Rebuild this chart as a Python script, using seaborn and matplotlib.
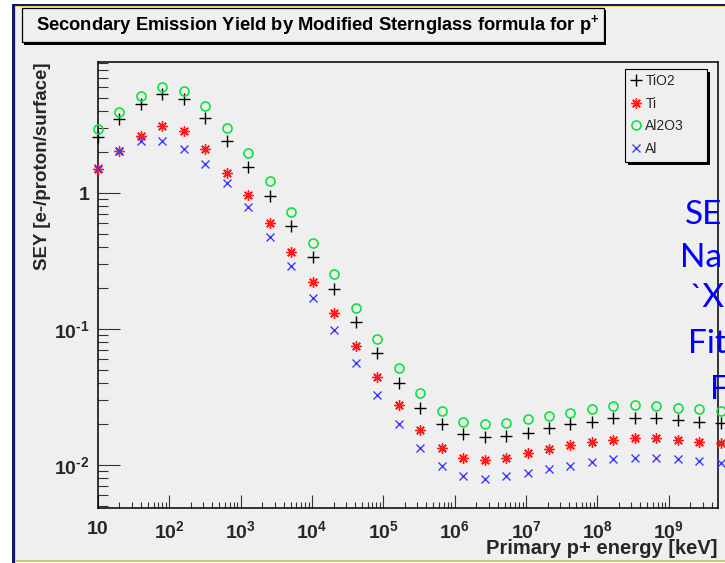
import matplotlib
matplotlib.use("Agg")
import matplotlib.pyplot as plt
import seaborn as sns
import pandas as pd
from matplotlib.patches import Rectangle
from matplotlib.ticker import LogLocator, NullFormatter

# proton energy in keV (doubling steps)
energy_kev = [10, 20, 40, 80, 160, 320, 640, 1280, 2560, 5120, 10240, 20480,
              40960, 81920, 163840, 327680, 655360, 1310720, 2621440, 5242880,
              10485760, 20971520, 41943040, 83886080, 167772160, 335544320,
              671088640, 1342177280, 2684354560, 5368709120]

sey_tio2 = [2.57, 3.48, 4.51, 5.32, 4.89, 3.54, 2.41, 1.56, 0.95, 0.575, 0.34,
            0.196, 0.112, 0.0663, 0.0403, 0.0261, 0.0199, 0.0168, 0.016, 0.0163,
            0.0173, 0.0186, 0.0199, 0.0208, 0.022, 0.0222, 0.022, 0.0214, 0.0208, 0.0204]
sey_ti = [1.5, 2.05, 2.63, 3.11, 2.87, 2.10, 1.41, 0.97, 0.605, 0.37, 0.223,
          0.132, 0.075, 0.0446, 0.0276, 0.0181, 0.0134, 0.0113, 0.0109, 0.0113,
          0.0122, 0.0131, 0.014, 0.0148, 0.0153, 0.0157, 0.0157, 0.0153, 0.0148, 0.0145]
sey_al2o3 = [2.96, 3.96, 5.19, 6.05, 5.65, 4.36, 2.99, 1.98, 1.22, 0.725, 0.43,
             0.252, 0.143, 0.084, 0.052, 0.034, 0.0249, 0.0208, 0.0199, 0.0204,
             0.0217, 0.0231, 0.0243, 0.0257, 0.0272, 0.0276, 0.0272, 0.0264, 0.026, 0.0251]
sey_al = [1.53, 2.05, 2.42, 2.42, 2.10, 1.63, 1.19, 0.79, 0.477, 0.29, 0.17,
          0.098, 0.0565, 0.033, 0.020, 0.0134, 0.00984, 0.0083, 0.0079, 0.0083,
          0.0088, 0.0093, 0.0098, 0.0106, 0.011, 0.0112, 0.0112, 0.011, 0.0107, 0.0104]

materials = ["TiO2", "Ti", "Al2O3", "Al"]
series = [sey_tio2, sey_ti, sey_al2o3, sey_al]

xtick_vals = [1e1, 1e2, 1e3, 1e4, 1e5, 1e6, 1e7, 1e8, 1e9]
xtick_labels = ["10", "$10^{2}$", "$10^{3}$", "$10^{4}$", "$10^{5}$",
                "$10^{6}$", "$10^{7}$", "$10^{8}$", "$10^{9}$"]
ytick_vals = [1e-2, 1e-1, 1]
ytick_labels = [r"$10^{\text{-}2}$", r"$10^{\text{-}1}$", "1"]

overlay_lines = ["SE", "Na", "`X", "Fit", "F"]

df = pd.DataFrame({
    "energy": energy_kev * len(materials),
    "sey": [v for s in series for v in s],
    "material": [m for m in materials for _ in energy_kev],
})

sns.set_style("ticks")
plt.rcParams["font.family"] = ["Liberation Sans", "DejaVu Sans"]
plt.rcParams["mathtext.fontset"] = "custom"
plt.rcParams["mathtext.rm"] = "Liberation Sans:bold"
plt.rcParams["mathtext.bf"] = "Liberation Sans:bold"
plt.rcParams["mathtext.it"] = "Liberation Sans:bold:italic"
plt.rcParams["mathtext.sf"] = "Liberation Sans:bold"
plt.rcParams["mathtext.default"] = "rm"

W, H = 725, 563
panel = "#efefef"


def px(x):
    return x / W


def py(y):
    return 1 - y / H


def frame_rect(x0, y0, x1, y1, color, z=-2, target=None, **kw):
    # rectangle given in picture pixels (top-left origin)
    r = Rectangle((px(x0), py(y1)), px(x1) - px(x0), py(y0) - py(y1),
                  transform=fig.transFigure, facecolor=color, zorder=z,
                  clip_on=False, **kw)
    if target is None:
        fig.patches.append(r)
    else:
        target.add_patch(r)


fig = plt.figure(figsize=(7.25, 5.63), dpi=100, facecolor="white")

# screenshot frame: gray pad with navy / yellow border
frame_rect(15, 7, 725, 561, panel, edgecolor="none")
frame_rect(12, 4.5, 14.5, 563, "#16166a", edgecolor="none")
frame_rect(12, 4.5, 725, 6, "#16166a", edgecolor="none")
frame_rect(14.5, 6, 15.7, 563, "#e6dc5a", edgecolor="none")
frame_rect(14.5, 6, 725, 7.2, "#e6dc5a", edgecolor="none")
frame_rect(15, 560, 725, 562, "#c9c672", edgecolor="none")

# title box with shadow
frame_rect(24.5, 10.5, 606.5, 44.5, "black", z=1, edgecolor="none")
frame_rect(22, 8, 604, 42, panel, z=2, edgecolor="black", linewidth=0.9)
fig.text(px(318), py(25), "Secondary Emission Yield by Modified Sternglass formula for p$^{+}$",
         ha="center", va="center", fontsize=13.2, fontweight="bold", color="black", zorder=3)

ax = fig.add_axes([px(98), py(508), px(718) - px(98), py(62) - py(508)])
ax.set_facecolor(panel)

styles = {
    "TiO2": dict(marker="+", color="black", mec="black", ms=8, mew=1.0),
    "Ti": dict(marker=(8, 2, 0), color="#ff1a1a", mec="#ff1a1a", ms=7.5, mew=1.0),
    "Al2O3": dict(marker="o", color="#10e040", mec="#10e040", ms=6.5, mew=1.2, mfc="none"),
    "Al": dict(marker="x", color="#3c3cff", mec="#3c3cff", ms=5.5, mew=1.0),
}

for m in materials:
    sub = df[df["material"] == m]
    sns.lineplot(data=sub, x="energy", y="sey", ax=ax, linestyle="", label=m,
                 clip_on=False, zorder=3, **styles[m])

ax.set_xscale("log")
ax.set_yscale("log")
ax.set_xlim(10, 4.9e9)
ax.set_ylim(0.00483, 9.2)

ax.set_xticks(xtick_vals, labels=xtick_labels)
ax.set_yticks(ytick_vals, labels=ytick_labels)
ax.xaxis.set_minor_locator(LogLocator(base=10, subs=range(2, 10), numticks=100))
ax.yaxis.set_minor_locator(LogLocator(base=10, subs=range(2, 10), numticks=100))
ax.xaxis.set_minor_formatter(NullFormatter())
ax.yaxis.set_minor_formatter(NullFormatter())

ax.tick_params(axis="x", which="major", direction="in", length=9.5, width=0.8,
               color="#333333", pad=9, labelsize=14)
ax.tick_params(axis="x", which="minor", direction="in", length=4.5, width=0.8, color="#333333")
ax.tick_params(axis="y", which="major", direction="in", length=15.5, width=0.8,
               color="#333333", pad=6, labelsize=14)
ax.tick_params(axis="y", which="minor", direction="in", length=7.5, width=0.8, color="#333333")
for lab in ax.get_xticklabels() + ax.get_yticklabels():
    lab.set_fontweight("bold")

for sp in ax.spines.values():
    sp.set_visible(True)
    sp.set_color("black")
    sp.set_linewidth(1.1)

ax.set_xlabel("")
ax.set_ylabel("")
fig.text(px(718), py(548), "Primary p+ energy [keV]", ha="right", va="center",
         fontsize=14.5, fontweight="bold")
fig.text(px(43), py(62), "SEY [e-/proton/surface]", ha="center", va="top",
         rotation=90, fontsize=13.5, fontweight="bold")

# legend box (ROOT style, shadow bottom-right) drawn by hand, entries by matplotlib
frame_rect(628, 72, 710, 165, "black", z=4, target=ax, edgecolor="none")
frame_rect(625, 69, 707, 162, panel, z=4.1, target=ax, edgecolor="black", linewidth=0.8)
leg = ax.legend(loc="upper left", bbox_to_anchor=(px(630), py(74)),
                bbox_transform=fig.transFigure, borderaxespad=0, borderpad=0,
                frameon=False, fontsize=10, handlelength=0.9, handletextpad=0.2,
                labelspacing=0.62)
leg.set_zorder(5)

# blue text from the overlapping slide
overlay_x = [685, 680, 690, 688, 710]
overlay_y = [215, 258, 298, 344, 390]
for txt, xx, yy in zip(overlay_lines, overlay_x, overlay_y):
    fig.text(px(xx), py(yy), txt, ha="left", va="center", fontsize=24,
             color="#0000ff", family=["Lato", "DejaVu Sans"], zorder=5)

fig.savefig("out.png", dpi=100, facecolor=fig.get_facecolor())
